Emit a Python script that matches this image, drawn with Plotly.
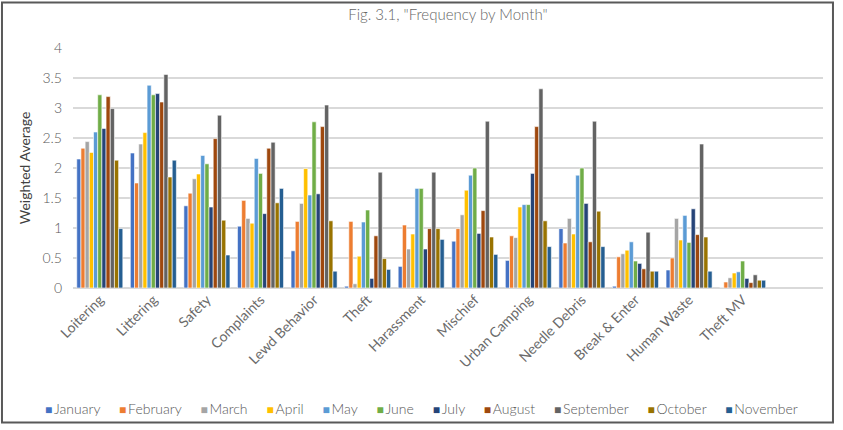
import plotly.graph_objects as go

categories = ["Loitering", "Littering", "Safety", "Complaints", "Lewd Behavior", "Theft",
              "Harassment", "Mischief", "Urban Camping", "Needle Debris", "Break & Enter",
              "Human Waste", "Theft MV"]

months = ["January", "February", "March", "April", "May", "June", "July", "August",
          "September", "October", "November"]

colors = ["#4472C4", "#ED7D31", "#A5A5A5", "#FFC000", "#5B9BD5", "#70AD47",
          "#264478", "#9E480E", "#636363", "#997300", "#255E91"]

january   = [2.15, 2.25, 1.37, 1.03, 0.62, 0.03, 0.36, 0.78, 0.46, 0.99, 0.03, 0.30, 0.00]
february  = [2.33, 1.75, 1.58, 1.46, 1.11, 1.11, 1.05, 0.99, 0.87, 0.75, 0.52, 0.50, 0.10]
march     = [2.44, 2.40, 1.82, 1.16, 1.41, 0.07, 0.65, 1.22, 0.84, 1.16, 0.57, 1.16, 0.17]
april     = [2.26, 2.59, 1.90, 1.08, 1.99, 0.53, 0.90, 1.63, 1.35, 0.90, 0.63, 0.80, 0.25]
may       = [2.60, 3.38, 2.21, 2.16, 1.55, 1.10, 1.66, 1.88, 1.39, 1.88, 0.77, 1.21, 0.27]
june      = [3.22, 3.22, 2.07, 1.91, 2.77, 1.30, 1.66, 2.00, 1.39, 2.00, 0.45, 0.76, 0.45]
july      = [2.66, 3.24, 1.35, 1.24, 1.57, 0.16, 0.65, 0.91, 1.91, 1.41, 0.41, 1.32, 0.16]
august    = [3.19, 3.10, 2.49, 2.33, 2.69, 0.87, 0.99, 1.29, 2.69, 0.77, 0.32, 0.89, 0.09]
september = [2.99, 3.56, 2.88, 2.43, 3.05, 1.93, 1.93, 2.78, 3.32, 2.78, 0.93, 2.40, 0.22]
october   = [2.13, 1.85, 1.13, 1.42, 1.12, 0.49, 0.99, 0.85, 1.12, 1.28, 0.28, 0.85, 0.13]
november  = [0.99, 2.13, 0.55, 1.66, 0.28, 0.31, 0.81, 0.56, 0.69, 0.69, 0.28, 0.28, 0.13]

series = [january, february, march, april, may, june, july, august,
          september, october, november]

y_ticks = [0, 0.5, 1, 1.5, 2, 2.5, 3, 3.5, 4]
y_tick_labels = ["0", "0.5", "1", "1.5", "2", "2.5", "3", "3.5", "4"]

FONT = "Lato, 'Open Sans', sans-serif"
GRAY = "#595959"

fig = go.Figure()
for name, vals, col in zip(months, series, colors):
    fig.add_trace(go.Bar(
        x=categories, y=vals, name=name, showlegend=False,
        marker=dict(color=col, line=dict(color="white", width=0.6)),
    ))

# compact Excel-style legend built as a single text line
legend_text = "&nbsp;&nbsp;&nbsp;&nbsp;&nbsp;".join(
    f'<span style="color:{c};font-size:12px">■</span>&#8201;{m}' for m, c in zip(months, colors)
)

fig.update_layout(
    width=843, height=430,
    margin=dict(l=73, r=20, t=48, b=142, autoexpand=False),
    paper_bgcolor="white", plot_bgcolor="white",
    barmode="group", bargap=0.14, bargroupgap=0,
    font=dict(family=FONT, color=GRAY, size=13),
    title=dict(text='Fig. 3.1, "Frequency by Month"', x=0.5, xref="paper",
               xanchor="center", y=0.965, yanchor="middle",
               font=dict(size=15, color="#666666", family=FONT, weight=300)),
    xaxis=dict(
        type="category", range=[-0.5, 13.5], tickangle=-45,
        tickfont=dict(size=14, color="#6a6a6a", family=FONT),
        showgrid=False, showline=False, ticks="",
    ),
    yaxis=dict(
        range=[0, 4], tickvals=y_ticks, ticktext=y_tick_labels,
        tickfont=dict(size=14, color=GRAY, family=FONT, weight=300),
        ticklabelstandoff=10,
        gridcolor="#D9D9D9", gridwidth=1.5,
        zeroline=True, zerolinecolor="#D9D9D9", zerolinewidth=1.5,
        showline=False, ticks="",
        title=dict(text="Weighted Average", standoff=8,
                   font=dict(size=14, color="#404040", family=FONT)),
    ),
    annotations=[dict(text=legend_text, xref="paper", yref="paper",
                      x=0.464, y=-0.502, xanchor="center", yanchor="middle",
                      showarrow=False,
                      font=dict(size=14, color=GRAY, family=FONT, weight=300))],
    shapes=[dict(type="rect", xref="paper", yref="paper",
                 x0=-0.0947, x1=1.0133, y0=-0.5604, y1=1.1896,
                 line=dict(color="#595959", width=2), fillcolor="rgba(0,0,0,0)")],
)

fig.write_html("out.html", config={"displayModeBar": False},
               post_script="document.body.style.margin='0';document.body.style.overflow='hidden';")
